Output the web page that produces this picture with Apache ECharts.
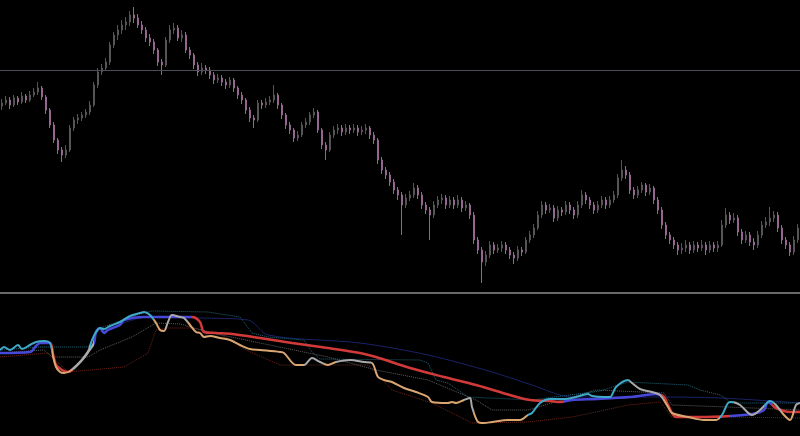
<!DOCTYPE html>
<html>
<head>
<meta charset="utf-8">
<script src="https://cdn.jsdelivr.net/npm/echarts@6/dist/echarts.min.js"></script>
<style>
html,body{margin:0;padding:0;background:#000;}
#chart{width:800px;height:436px;}
</style>
</head>
<body>
<div id="chart"></div>
<script>
// ---- price panel: [open, close, low, high] per bar ----
const candles = [
[194,197,190,201],[197,200,195,204],[200,195,191,203],[195,202,193,205],[202,198,195,204],
[198,204,196,208],[204,200,197,206],[200,205,198,209],[205,208,203,212],[208,212,205,218],
[212,203,200,214],[203,190,186,205],[190,175,172,192],[175,160,157,178],[160,150,146,162],
[150,145,138,153],[145,150,142,155],[150,172,148,175],[172,180,169,183],[180,182,176,186],
[182,185,179,188],[185,188,182,191],[188,195,185,199],[195,215,193,218],[215,228,212,232],
[228,232,225,236],[232,238,229,242],[238,255,235,258],[255,265,252,268],[265,270,260,275],
[270,275,266,280],[275,278,270,283],[278,285,274,289],[285,282,277,293],[282,275,272,286],
[275,270,266,279],[270,262,258,273],[262,258,254,266],[258,250,246,261],[250,238,234,252],
[238,235,225,241],[235,260,233,263],[260,270,257,275],[270,272,266,277],[272,262,259,275],
[262,265,258,270],[265,250,247,268],[250,245,241,253],[245,235,231,247],[235,228,224,238],
[228,232,225,237],[232,230,226,235],[230,225,221,233],[225,220,216,228],[220,222,217,226],
[222,218,214,225],[218,215,211,221],[215,220,212,223],[220,212,208,222],[212,205,201,214],
[205,200,196,208],[200,190,186,202],[190,182,178,193],[182,180,172,185],[180,197,178,200],
[197,195,191,200],[195,198,192,202],[198,200,195,204],[200,205,197,215],[205,195,191,207],
[195,185,181,197],[185,175,171,187],[175,170,166,178],[170,162,158,172],[162,165,159,169],
[165,175,163,178],[175,178,172,182],[178,185,175,188],[185,188,182,192],[188,170,167,190],
[170,155,151,172],[155,150,140,158],[150,165,148,168],[165,170,162,174],[170,172,166,176],
[172,168,164,175],[168,172,165,176],[172,170,166,175],[170,172,167,176],[172,168,164,175],
[168,170,165,174],[170,172,166,176],[172,165,161,174],[165,160,156,168],[160,140,136,162],
[140,130,126,143],[130,125,121,133],[125,118,114,128],[118,110,106,121],[110,105,100,113],
[105,95,65,108],[95,102,92,106],[102,105,99,109],[105,112,102,117],[112,105,101,115],
[105,95,91,108],[95,90,86,98],[90,85,60,93],[85,95,82,99],[95,100,92,104],
[100,102,96,106],[102,95,91,105],[95,100,92,104],[100,95,91,103],[95,100,92,105],
[100,92,88,103],[92,95,89,99],[95,85,81,97],[85,60,56,88],[60,50,46,63],
[50,38,17,53],[38,45,34,49],[45,55,42,59],[55,50,46,58],[50,52,47,56],
[52,55,48,59],[55,50,46,58],[50,45,41,53],[45,42,36,48],[42,50,39,54],
[50,48,44,53],[48,60,46,63],[60,65,57,69],[65,72,62,76],[72,85,70,89],
[85,95,82,99],[95,90,86,98],[90,92,87,96],[92,82,78,95],[82,90,79,94],
[90,88,84,93],[88,95,85,99],[95,90,86,98],[90,85,81,93],[85,95,82,99],
[95,105,92,110],[105,100,96,108],[100,95,91,103],[95,90,86,98],[90,95,87,99],
[95,100,92,104],[100,95,91,103],[95,100,92,104],[100,105,97,109],[105,122,102,126],
[122,130,119,140],[130,125,121,134],[125,110,106,128],[110,105,101,113],[105,110,102,114],
[110,115,107,118],[115,108,104,117],[108,112,105,116],[112,100,96,114],[100,90,86,103],
[90,75,71,93],[75,65,61,78],[65,60,56,68],[60,55,51,63],[55,50,45,58],
[50,52,46,57],[52,55,48,60],[55,50,46,58],[50,55,47,59],[55,52,48,58],
[52,55,49,60],[55,50,45,58],[50,55,47,59],[55,52,48,58],[52,55,48,59],
[55,75,53,80],[75,85,72,92],[85,80,76,88],[80,82,77,87],[82,68,64,85],
[68,60,56,71],[60,65,57,69],[65,58,54,68],[58,55,50,62],[55,65,52,69],
[65,75,62,79],[75,78,72,83],[78,82,74,93],[82,85,78,89],[85,72,68,88],
[72,60,56,75],[60,55,51,63],[55,48,44,58],[48,60,45,64],[60,72,57,76]
];
const bars = candles.map((_, k) => String(k + 1));
const levelLine = 230;

// ---- indicator panel: [bar position, value] ----
const fastLine = [[0,86],[1,89],[2.5,86],[4.5,91],[5.5,87],[7.5,91],[9,94],[11,95],[12.5,93],[13.3,79],[14,69],[15,64],[16,63],[17.5,65],[19,70],[20.5,76],[22,84],[23,96],[24,104],[25,108],[26,107],[27.5,110],[30,114],[32.5,120],[35,123],[36,124],[37.5,121],[39,113],[40,106],[41,105],[42,114],[43,121],[45,119],[46,118],[47.5,111],[49,104],[50,103],[51,99],[52.5,100],[55,98],[57.5,96],[60,91],[62.5,87],[65,86],[70,84],[71,83],[74,71],[76,71],[78,78],[80,74],[82,71],[84,74],[87.5,76],[91,74],[93,73],[94.5,59],[96,56],[98,54],[101,48],[104,44],[107,39],[108,34],[112,33],[113,34],[114,33],[116,36],[117.5,38],[118,29],[119.5,14],[121,13],[123,14],[127,16],[130,16],[132,21],[133,23],[135,33],[137.5,37],[141,37],[144,39],[147,42],[148,40],[151,39],[152.5,39],[154,49],[157,56],[158,53],[160,47],[163,44],[165,41],[167,29],[168,23],[172,19],[176,16],[179,16],[180.5,21],[182,33],[183,34],[185,31],[188,21],[190,26],[192,34],[192.5,35],[194,31],[196,21],[197.5,16],[199,31],[200,33]];
const fastState = [[0,13,'up'],[13,18,'down'],[18,22.5,'flat'],[22.5,38.5,'up'],[38.5,41.5,'down'],[41.5,47,'flat'],[47,76,'down'],[76,81,'flat'],[81,84,'down'],[84,93,'flat'],[93,116,'down'],[116,118.5,'flat'],[118.5,132,'down'],[132,157.5,'up'],[157.5,166,'flat'],[166,180,'down'],[180,183.5,'up'],[183.5,191,'flat'],[191,193.5,'up'],[193.5,195.5,'flat'],[195.5,198.5,'down'],[198.5,201,'flat']];

const slowLine = [[0,83],[7.5,84],[9,90],[10,93],[12.5,93],[13.3,81],[14,71],[15.5,66],[17,64],[18,66],[20.5,76],[22,84],[23.5,93],[24,104],[25,108],[26,103],[27,106],[30,111],[31,116],[36,119],[42,119],[47,119],[48,119],[50,114],[51,104],[54,103],[58,102],[65,98],[73,93],[82,88],[90,83],[94,79],[102.5,68],[111,59],[119,51],[127.5,41],[132.5,36],[137.5,35],[140,34],[143,36],[149,37],[157.5,39],[164,42],[166,39],[167,31],[169,19],[175,19],[182.5,20],[188,22],[191,26],[192,34],[194,28],[197.5,24],[200,24]];
const slowState = [[0,13,'up'],[13,18.5,'down'],[18.5,23.5,'flat'],[23.5,48,'up'],[48,141,'down'],[141,165.5,'up'],[165.5,182.5,'down'],[182.5,193,'up'],[193,201,'down']];

const tealStop = [[0,86],[10,89],[22,89],[25,108],[35,122],[38,125],[52,124],[60,119],[63,103],[67,99],[76,96],[78,84],[80,77],[105,76],[107,73],[109,56],[112,53],[117,39],[133,36],[150,45],[157,54],[172,51],[175,46],[180,41],[183,33],[200,33]];
const navyAvg = [[25,104],[30,112],[37,119],[50,118],[62,116],[67,101],[90,93],[107,81],[123,64],[133,51],[143,39],[165,39],[180,38],[200,33]];
const greyAvg = [[0,83],[11,86],[13,79],[22,79],[25,86],[33,99],[39,113],[45,112],[53,103],[65,93],[82,79],[94,66],[107,56],[119,36],[123,26],[132,26],[149,46],[166,43],[168,31],[182,29],[200,26]];
const redStop = [[0,79],[12,83],[17,64],[31,69],[37,83],[39,106],[42,108],[48,108],[55,102],[62,85],[70,71],[92,71],[98,46],[108,33],[118,13],[132,14],[143,19],[149,24],[157,31],[165,34],[168,19],[182,19],[200,18]];

const fastColors = {up:'#3fa9c9', down:'#d9a672', flat:'#a9a9a9'};
const slowColors = {up:'#4848d8', down:'#d23a3a', flat:'#a9a9a9'};
const toPieces = (st, cmap) => st.map(s => ({gte:s[0], lt:s[1], color:cmap[s[2]]}));

const chart = echarts.init(document.getElementById('chart'), null, {renderer:'canvas'});
chart.setOption({
  backgroundColor:'#000',
  animation:false,
  grid:[
    {left:0, right:0, top:0, height:293},
    {left:0, right:0, top:295, height:141}
  ],
  xAxis:[
    {type:'category', gridIndex:0, data:bars, boundaryGap:true,
     axisLine:{show:true, lineStyle:{color:'#8c8c8c', width:1.5}},
     axisTick:{show:false}, axisLabel:{show:false}, splitLine:{show:false}},
    {type:'value', gridIndex:1, min:0, max:200, show:false}
  ],
  yAxis:[
    {type:'value', gridIndex:0, min:7, max:300, show:false},
    {type:'value', gridIndex:1, min:0, max:141, show:false}
  ],
  visualMap:[
    {type:'piecewise', show:false, dimension:0, seriesIndex:5, pieces:toPieces(slowState, slowColors)},
    {type:'piecewise', show:false, dimension:0, seriesIndex:6, pieces:toPieces(fastState, fastColors)}
  ],
  series:[
    {type:'candlestick', xAxisIndex:0, yAxisIndex:0, data:candles, barWidth:2,
     itemStyle:{color:'#4e4e4e', color0:'#946690', borderColor:'#555555', borderColor0:'#946690', borderWidth:1},
     markLine:{silent:true, symbol:['none','none'], label:{show:false},
       lineStyle:{color:'#4c4e5a', width:1, type:'solid'}, data:[{yAxis:levelLine}]}},
    {type:'line', xAxisIndex:1, yAxisIndex:1, data:redStop, showSymbol:false,
     lineStyle:{color:'#6b2418', width:1, type:'dotted'}},
    {type:'line', xAxisIndex:1, yAxisIndex:1, data:greyAvg, showSymbol:false,
     lineStyle:{color:'#5e5e5e', width:1, type:'dotted'}},
    {type:'line', xAxisIndex:1, yAxisIndex:1, data:navyAvg, showSymbol:false, smooth:0.3,
     lineStyle:{color:'#1a2266', width:1}},
    {type:'line', xAxisIndex:1, yAxisIndex:1, data:tealStop, showSymbol:false,
     lineStyle:{color:'#1f6678', width:1, type:'dotted'}},
    {type:'line', xAxisIndex:1, yAxisIndex:1, data:slowLine, showSymbol:false, smooth:0.3,
     lineStyle:{width:2.5}},
    {type:'line', xAxisIndex:1, yAxisIndex:1, data:fastLine, showSymbol:false, smooth:0.3,
     lineStyle:{width:2}}
  ]
});
</script>
</body>
</html>
